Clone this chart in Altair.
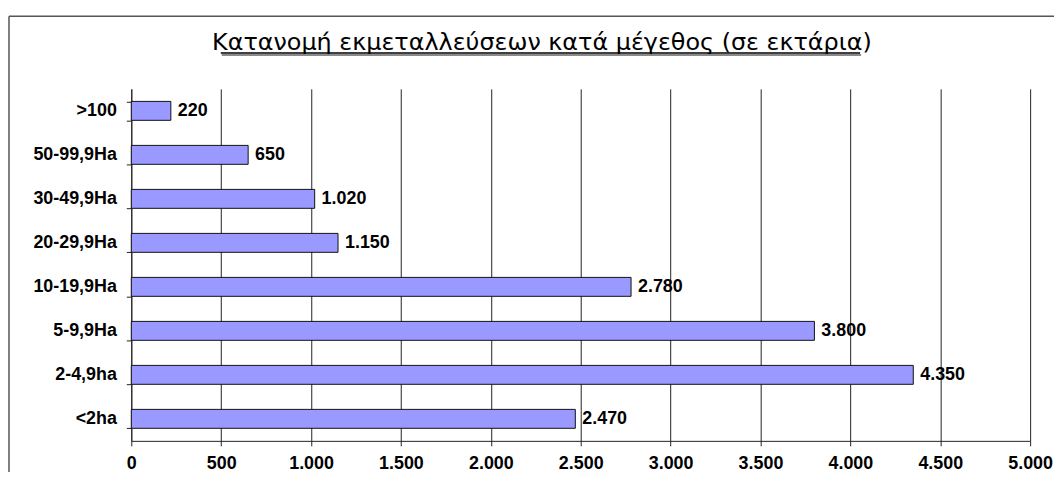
import altair as alt
import pandas as pd

categories = [">100", "50-99,9Ha", "30-49,9Ha", "20-29,9Ha", "10-19,9Ha", "5-9,9Ha", "2-4,9ha", "<2ha"]
values = [220, 650, 1020, 1150, 2780, 3800, 4350, 2470]
title_text = "Κατανομή εκμεταλλεύσεων κατά μέγεθος (σε εκτάρια)"
x_ticks = [0, 500, 1000, 1500, 2000, 2500, 3000, 3500, 4000, 4500, 5000]

df = pd.DataFrame({"cat": categories, "val": values})
title_df = pd.DataFrame({"t": [title_text]})
one_df = pd.DataFrame({"k": [0]})

FONT = "Liberation Sans"
LINE = "#222222"
fmt = "replace(format(datum.value, ','), ',', '.')"

y_enc = alt.Y(
    "cat:N", sort=categories, title=None,
    scale=alt.Scale(paddingInner=0.57, paddingOuter=0.285),
    axis=alt.Axis(tickBand="extent", tickSize=5, tickColor=LINE, tickWidth=1,
                  domainColor=LINE, domainWidth=1, grid=False,
                  labelFont=FONT, labelFontSize=18, labelFontWeight="bold",
                  labelColor="#000000", labelPadding=10),
)
x_enc = alt.X(
    "val:Q", title=None,
    scale=alt.Scale(domain=[0, 5000], nice=False),
    axis=alt.Axis(values=x_ticks, grid=True, gridColor=LINE, gridOpacity=1, gridWidth=1,
                  tickSize=5, tickColor=LINE, domainColor=LINE, domainWidth=1,
                  labelFont=FONT, labelFontSize=18, labelFontWeight="bold",
                  labelColor="#000000", labelPadding=9, labelExpr=fmt,
                  labelOverlap=False, labelFlush=False),
)

bars = alt.Chart(df).mark_bar(fill="#9999FF", stroke="#111111", strokeWidth=1).encode(
    x=x_enc, y=y_enc
)

labels = alt.Chart(df).transform_calculate(
    lbl="replace(format(datum.val, ','), ',', '.')"
).mark_text(
    align="left", baseline="middle", dx=7, font=FONT, fontSize=18,
    fontWeight="bold", color="#000000"
).encode(
    x="val:Q", y=alt.Y("cat:N", sort=categories), text="lbl:N"
)

title = alt.Chart(title_df).mark_text(
    align="center", baseline="alphabetic", font="DejaVu Sans", fontSize=24, color="#000000"
).encode(x=alt.value(413), y=alt.value(-39), text="t:N")

underline_shadow = alt.Chart(one_df).mark_rule(color="#8a8a8a", strokeWidth=2).encode(
    x=alt.value(91), x2=alt.value(734), y=alt.value(-34), y2=alt.value(-34)
)
underline = alt.Chart(one_df).mark_rule(color="#000000", strokeWidth=1.5).encode(
    x=alt.value(90), x2=alt.value(733), y=alt.value(-36), y2=alt.value(-36)
)

frame_top = alt.Chart(one_df).mark_rule(color="#555555", strokeWidth=1.5).encode(
    x=alt.value(-123), x2=alt.value(960), y=alt.value(-73), y2=alt.value(-73)
)
frame_left = alt.Chart(one_df).mark_rule(color="#555555", strokeWidth=1.5).encode(
    x=alt.value(-123), x2=alt.value(-123), y=alt.value(-73), y2=alt.value(420)
)

chart = alt.layer(
    bars, labels, title, underline_shadow, underline, frame_top, frame_left
).properties(
    width=904, height=354,
    padding={"left": 124, "top": 80, "right": 24, "bottom": 30},
    autosize=alt.AutoSizeParams(type="none"),
    background="#ffffff",
).configure_view(stroke=None)

chart.save("out.html", embed_options={"renderer": "svg", "actions": False})
